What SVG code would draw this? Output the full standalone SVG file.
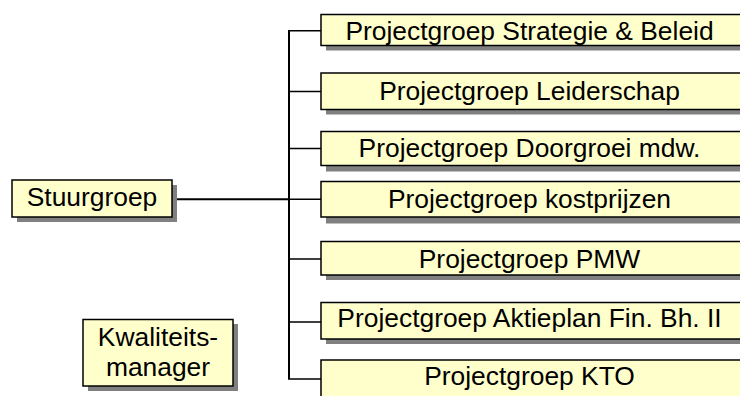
<svg xmlns="http://www.w3.org/2000/svg" width="740" height="396" viewBox="0 0 740 396">
<style>
.sh{fill:#808080}
.bx{fill:#FFFFCC;stroke:#000;stroke-width:1.5}
.t{font-family:"Liberation Sans",Arial,sans-serif;font-size:26.4px;fill:#000;text-anchor:middle}
.c{stroke:#000;fill:none}
</style>
<rect width="740" height="396" fill="#fff"/>
<g id="connectors">
<path class="c" stroke-width="2" d="M172 199.3H289"/>
<path class="c" stroke-width="2" d="M289 30.7V379"/>
<path class="c" stroke-width="1.5" d="M288 30.7H321M289 91.5H321M289 148.5H321M289 199.3H321M289 259H321M289 322H321M288 379H321"/>
</g>
<g id="stuurgroep">
<rect class="sh" x="17" y="185" width="160" height="37"/>
<rect class="bx" x="12" y="180" width="160" height="37"/>
<text class="t" x="92" y="206">Stuurgroep</text>
</g>
<g id="kwaliteitsmanager">
<rect class="sh" x="88" y="324" width="150" height="67"/>
<rect class="bx" x="83" y="319.5" width="150" height="66.5"/>
<text class="t" x="158" y="346">Kwaliteits-</text>
<text class="t" x="158" y="376">manager</text>
</g>
<g id="pg-strategie">
<rect class="sh" x="326" y="19.5" width="420" height="31"/>
<rect class="bx" x="321" y="14.5" width="420" height="31"/>
<text class="t" x="529.5" y="40">Projectgroep Strategie &amp; Beleid</text>
</g>
<g id="pg-leiderschap">
<rect class="sh" x="326" y="78" width="420" height="36.5"/>
<rect class="bx" x="321" y="73" width="420" height="36.5"/>
<text class="t" x="529.5" y="100">Projectgroep Leiderschap</text>
</g>
<g id="pg-doorgroei">
<rect class="sh" x="326" y="137" width="420" height="34.5"/>
<rect class="bx" x="321" y="131.5" width="420" height="34"/>
<text class="t" x="529.5" y="157">Projectgroep Doorgroei mdw.</text>
</g>
<g id="pg-kostprijzen">
<rect class="sh" x="326" y="187" width="420" height="36.5"/>
<rect class="bx" x="321" y="181.5" width="420" height="35.5"/>
<text class="t" x="529.5" y="207.5">Projectgroep kostprijzen</text>
</g>
<g id="pg-pmw">
<rect class="sh" x="326" y="246.5" width="420" height="33.5"/>
<rect class="bx" x="321" y="241.5" width="420" height="33.5"/>
<text class="t" x="529.5" y="268">Projectgroep PMW</text>
</g>
<g id="pg-aktieplan">
<rect class="sh" x="326" y="307.5" width="420" height="36.5"/>
<rect class="bx" x="321" y="302.5" width="420" height="36.5"/>
<text class="t" x="529.5" y="326.5">Projectgroep Aktieplan Fin. Bh. II</text>
</g>
<g id="pg-kto">
<rect class="sh" x="326" y="365" width="420" height="40"/>
<rect class="bx" x="321" y="360" width="420" height="40"/>
<text class="t" x="529.5" y="385">Projectgroep KTO</text>
</g>
</svg>
